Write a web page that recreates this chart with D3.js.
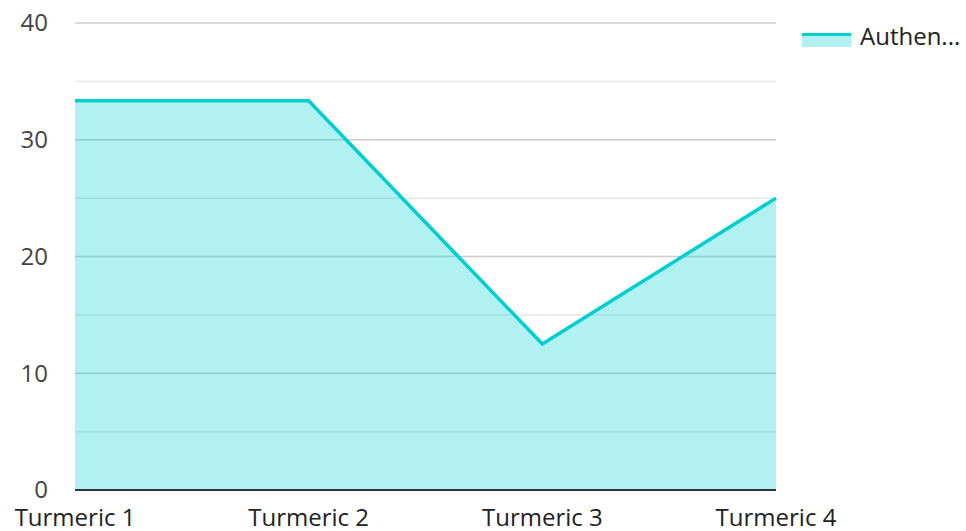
<!DOCTYPE html>
<html>
<head>
  <meta charset="utf-8">
  <script src="https://d3js.org/d3.v7.min.js"></script>
  <style>
    body { margin: 0; background: #fff; }
    text { font-family: "Open Sans", "Noto Sans", sans-serif; }
  </style>
</head>
<body>
<svg id="chart"></svg>
<script>
  const categories = ["Turmeric 1", "Turmeric 2", "Turmeric 3", "Turmeric 4"];
  const values = [33.33, 33.33, 12.5, 25];
  const seriesName = "Authenticity";
  const yTicks = [0, 10, 20, 30, 40];
  const yMinor = [5, 15, 25, 35];

  const W = 966, H = 531;
  const margin = { top: 23, right: 190, bottom: 41, left: 75 };
  const width = W - margin.left - margin.right;
  const height = H - margin.top - margin.bottom;
  const teal = "#00cfd1";
  const fs = 24;

  const svg = d3.select("#chart").attr("width", W).attr("height", H);
  const g = svg.append("g").attr("transform", `translate(${margin.left},${margin.top})`);

  const x = d3.scalePoint().domain(categories).range([0, width]);
  const y = d3.scaleLinear().domain([0, 40]).range([height, 0]);

  // grid
  g.append("g").selectAll("line").data(yMinor).join("line")
    .attr("x1", 0).attr("x2", width)
    .attr("y1", d => y(d)).attr("y2", d => y(d))
    .attr("stroke", "#e6e6e6").attr("stroke-width", 1.5);
  g.append("g").selectAll("line").data(yTicks.filter(d => d > 0)).join("line")
    .attr("x1", 0).attr("x2", width)
    .attr("y1", d => y(d)).attr("y2", d => y(d))
    .attr("stroke", "#cccccc").attr("stroke-width", 1.5);

  const data = categories.map((c, i) => ({ c, v: values[i] }));

  const area = d3.area().x(d => x(d.c)).y0(y(0)).y1(d => y(d.v));
  g.append("path").datum(data).attr("d", area)
    .attr("fill", teal).attr("fill-opacity", 0.3);

  const line = d3.line().x(d => x(d.c)).y(d => y(d.v));
  g.append("path").datum(data).attr("d", line)
    .attr("fill", "none").attr("stroke", teal).attr("stroke-width", 3.5);

  // baseline
  g.append("line").attr("x1", 0).attr("x2", width)
    .attr("y1", y(0)).attr("y2", y(0))
    .attr("stroke", "#333").attr("stroke-width", 2);

  // y labels
  g.append("g").selectAll("text").data(yTicks).join("text")
    .attr("x", -27).attr("y", d => y(d)).attr("dy", "0.35em")
    .attr("text-anchor", "end").attr("font-size", fs).attr("fill", "#444")
    .text(d => d);

  // x labels
  g.append("g").selectAll("text").data(categories).join("text")
    .attr("x", d => x(d)).attr("y", height + 36)
    .attr("text-anchor", "middle").attr("font-size", fs).attr("fill", "#222")
    .text(d => d);

  // legend
  const lg = svg.append("g").attr("transform", "translate(802,33)");
  lg.append("rect").attr("width", 49).attr("height", 14)
    .attr("fill", teal).attr("fill-opacity", 0.3);
  lg.append("rect").attr("width", 49).attr("height", 3).attr("fill", teal);
  lg.append("text").attr("x", 58).attr("y", 4).attr("dy", "0.35em")
    .attr("font-size", fs).attr("fill", "#222")
    .text(seriesName.slice(0, 6) + "...");
</script>
</body>
</html>
